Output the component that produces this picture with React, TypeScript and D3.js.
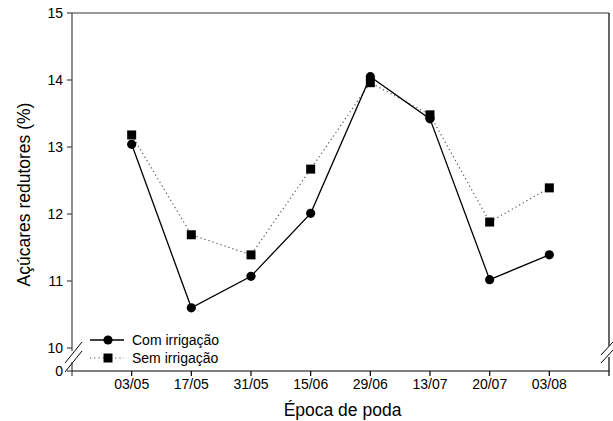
import * as d3 from 'd3'

const categories = ['03/05', '17/05', '31/05', '15/06', '29/06', '13/07', '20/07', '03/08']
const comIrrigacao = [13.04, 10.6, 11.07, 12.01, 14.05, 13.42, 11.02, 11.39]
const semIrrigacao = [13.18, 11.69, 11.39, 12.67, 13.96, 13.48, 11.88, 12.39]
const yTicks = [10, 11, 12, 13, 14, 15]

export default function App() {
  const width = 613
  const height = 421
  const left = 72
  const right = 609
  const top = 13
  const base = 371 // y of the x axis (value 0)
  const font = "'Liberation Sans', Arial, sans-serif"

  const x = d3.scaleLinear().domain([0, categories.length + 1]).range([left, right])
  const y = d3.scaleLinear().domain([10, 15]).range([348, top])

  const line = d3
    .line<number>()
    .x((_, i) => x(i + 1))
    .y((v) => y(v))

  const axisColor = '#444'

  return (
    <svg
      width={width}
      height={height}
      style={{ position: 'absolute', left: 0, top: 0, background: '#fff' }}
      fontFamily={font}
    >
      {/* frame */}
      <line x1={left} x2={right} y1={top} y2={top} stroke="#777" strokeWidth={1.3} />
      <line x1={left} x2={left} y1={top} y2={351} stroke={axisColor} strokeWidth={1.2} />
      <line x1={left} x2={left} y1={362} y2={376} stroke={axisColor} strokeWidth={1.2} />
      <line x1={right} x2={right} y1={top} y2={346} stroke="#000" strokeWidth={1.2} />
      <line x1={right} x2={right} y1={357} y2={376} stroke="#000" strokeWidth={1.2} />
      <line x1={left} x2={right} y1={base} y2={base} stroke="#000" strokeWidth={1.2} />

      {/* axis breaks */}
      <line x1={65} y1={363} x2={82} y2={342} stroke="#000" strokeWidth={1} />
      <line x1={65} y1={372} x2={82} y2={351} stroke="#000" strokeWidth={1} />
      <line x1={601} y1={355} x2={613} y2={342} stroke="#000" strokeWidth={1} />
      <line x1={601} y1={363} x2={613} y2={350} stroke="#000" strokeWidth={1} />

      {/* y ticks */}
      {yTicks.map((t) => (
        <g key={t}>
          <line x1={left - 5} x2={left} y1={y(t)} y2={y(t)} stroke={axisColor} strokeWidth={1.2} />
          <text x={left - 9} y={y(t) + 5} textAnchor="end" fontSize={14}>
            {t}
          </text>
        </g>
      ))}
      <line x1={left - 5} x2={left} y1={base} y2={base} stroke={axisColor} strokeWidth={1.2} />
      <text x={left - 9} y={base + 5} textAnchor="end" fontSize={14}>
        0
      </text>

      {/* x ticks */}
      {categories.map((c, i) => (
        <g key={c}>
          <line x1={x(i + 1)} x2={x(i + 1)} y1={base} y2={base + 5} stroke="#000" strokeWidth={1.2} />
          <text x={x(i + 1)} y={base + 18} textAnchor="middle" fontSize={14}>
            {c}
          </text>
        </g>
      ))}

      {/* titles */}
      <text x={342.5} y={416} textAnchor="middle" fontSize={17.5}>
        Época de poda
      </text>
      <text transform="translate(30,194.5) rotate(-90)" textAnchor="middle" fontSize={17.5}>
        Açúcares redutores (%)
      </text>

      {/* series */}
      <path d={line(semIrrigacao) ?? ''} fill="none" stroke="#555" strokeWidth={1.2} strokeDasharray="1.2 3" />
      <path d={line(comIrrigacao) ?? ''} fill="none" stroke="#000" strokeWidth={1.3} />
      {semIrrigacao.map((v, i) => (
        <rect key={`s${i}`} x={x(i + 1) - 4.5} y={y(v) - 4.5} width={9} height={9} fill="#000" />
      ))}
      {comIrrigacao.map((v, i) => (
        <circle key={`c${i}`} cx={x(i + 1)} cy={y(v)} r={4.6} fill="#000" />
      ))}

      {/* legend */}
      <g>
        <line x1={90} x2={124} y1={340} y2={340} stroke="#000" strokeWidth={1.3} />
        <circle cx={108} cy={340} r={4.6} fill="#000" />
        <text x={132} y={345} fontSize={14}>
          Com irrigação
        </text>
        <line x1={90} x2={124} y1={358} y2={358} stroke="#555" strokeWidth={1.2} strokeDasharray="1.2 3" />
        <rect x={103.5} y={353.5} width={9} height={9} fill="#000" />
        <text x={132} y={363} fontSize={14}>
          Sem irrigação
        </text>
      </g>
    </svg>
  )
}
